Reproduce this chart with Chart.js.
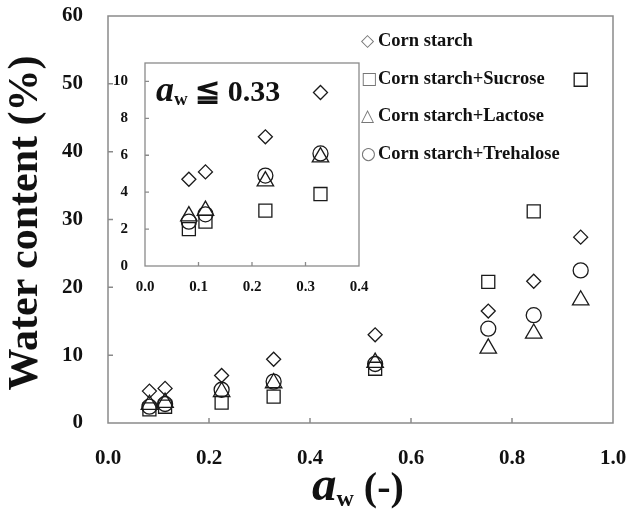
<!DOCTYPE html>
<html>
<head>
<meta charset="utf-8">
<script src="https://cdn.jsdelivr.net/npm/chart.js@4"></script>
<style>
  html, body { margin: 0; padding: 0; background: #ffffff; }
  #wrap { position: relative; width: 626px; height: 512px; overflow: hidden; background: #fff; }
  canvas { position: absolute; }
  .txt { position: absolute; font-family: 'Liberation Serif', 'Times New Roman', serif; font-weight: bold; color: #111; white-space: nowrap; pointer-events: none; }
  .leg { position: absolute; left: 361px; font-family: 'Liberation Serif', 'Times New Roman', serif; font-weight: bold; font-size: 18.5px; line-height: 18.5px; color: #111; white-space: nowrap; }
  .leg .g { font-family: 'DejaVu Sans', sans-serif; font-weight: normal; font-size: 17px; color: #777; display: inline-block; width: 17px; }
</style>
</head>
<body>
<div id="wrap">
  <canvas id="main" width="626" height="512" style="left:0;top:0"></canvas>
  <canvas id="inset" width="275" height="250" style="left:95px;top:50px"></canvas>

  <div class="txt" id="ytitle" style="left:-177px;top:200px;width:400px;height:46px;line-height:46px;font-size:42px;text-align:center;transform:rotate(-90deg);">Water content (%)</div>
  <div class="txt" style="left:312px;top:460px;line-height:48px;"><span style="font-size:49px;font-style:italic;">a</span><span style="font-size:24px;position:relative;top:6px;">w</span><span style="font-size:40px;"> (-)</span></div>
  <div class="txt" style="left:156px;top:73px;line-height:32px;"><span style="font-size:36px;font-style:italic;">a</span><span style="font-size:19px;position:relative;top:4px;">w</span><span style="font-size:30px;">&nbsp;≦&nbsp;0.33</span></div>

  <div class="leg" style="top:31px"><span class="g">◇</span>Corn starch</div>
  <div class="leg" style="top:68.5px"><span class="g">□</span>Corn starch+Sucrose</div>
  <div class="leg" style="top:106px"><span class="g">△</span>Corn starch+Lactose</div>
  <div class="leg" style="top:143.5px"><span class="g">○</span>Corn starch+Trehalose</div>
</div>
<script>
// ---- data ----
const awValues   = [0.082, 0.113, 0.225, 0.328, 0.529, 0.753, 0.843, 0.936];
const cornStarch = [4.7, 5.1, 7.0, 9.4, 13.0, 16.5, 20.9, 27.4];
const sucrose    = [2.0, 2.4, 3.0, 3.9, 8.0, 20.8, 31.2, 50.6];
const lactose    = [2.7, 3.0, 4.6, 5.9, 8.9, 11.0, 13.2, 18.1];
const trehalose  = [2.4, 2.8, 4.9, 6.1, 8.7, 13.9, 15.9, 22.5];
const seriesNames = ['Corn starch', 'Corn starch+Sucrose', 'Corn starch+Lactose', 'Corn starch+Trehalose'];
const insetLimit = 0.33;

const mainXTicks = [0, 0.2, 0.4, 0.6, 0.8, 1.0];
const mainYTicks = [0, 10, 20, 30, 40, 50, 60];
const insetXTicks = [0, 0.1, 0.2, 0.3, 0.4];
const insetYTicks = [0, 2, 4, 6, 8, 10];

const SERIF = "'Liberation Serif', 'Times New Roman', serif";
const styles = [
  { pointStyle: 'rectRot', r: 7 },
  { pointStyle: 'rect', r: 9.2 },
  { pointStyle: 'triangle', r: 9.5 },
  { pointStyle: 'circle', r: 7.5 }
];
const allSeries = [cornStarch, sucrose, lactose, trehalose];

function makeDatasets(limit) {
  return allSeries.map((vals, i) => ({
    label: seriesNames[i],
    data: awValues.map((x, j) => ({ x: x, y: vals[j] })).filter(p => p.x <= limit),
    pointStyle: styles[i].pointStyle,
    pointRadius: styles[i].r,
    pointHoverRadius: styles[i].r,
    borderColor: '#1a1a1a',
    backgroundColor: 'rgba(0,0,0,0)',
    pointBorderWidth: 1.3,
    showLine: false
  }));
}

const framePlugin = {
  id: 'frame',
  afterDraw(chart, args, opts) {
    const { ctx, chartArea: a, scales } = chart;
    ctx.save();
    ctx.strokeStyle = opts.color;
    ctx.lineWidth = opts.width;
    ctx.strokeRect(a.left, a.top, a.right - a.left, a.bottom - a.top);
    ctx.beginPath();
    scales.x.ticks.forEach((t, i) => {
      const px = scales.x.getPixelForTick(i);
      if (px <= a.left + 2 || px >= a.right - 2) return;
      ctx.moveTo(px, a.bottom); ctx.lineTo(px, a.bottom - opts.tick);
    });
    scales.y.ticks.forEach((t, i) => {
      const py = scales.y.getPixelForTick(i);
      if (py <= a.top + 2 || py >= a.bottom - 2) return;
      ctx.moveTo(a.left, py); ctx.lineTo(a.left + opts.tick, py);
    });
    ctx.stroke();
    ctx.restore();
  }
};

function setTicks(list) {
  return function (scale) { scale.ticks = list.map(v => ({ value: v })); };
}
function fitTo(prop, size) {
  return function (s) {
    s[prop] = size;
    s.paddingTop = 0; s.paddingBottom = 0; s.paddingLeft = 0; s.paddingRight = 0;
  };
}

new Chart(document.getElementById('main'), {
  type: 'scatter',
  data: { datasets: makeDatasets(Infinity) },
  plugins: [framePlugin],
  options: {
    responsive: false, animation: false, devicePixelRatio: 1,
    layout: { padding: { left: 0, right: 13, top: 16, bottom: 0 } },
    plugins: { legend: { display: false }, tooltip: { enabled: false },
      frame: { color: '#8a8a8a', width: 1.5, tick: 5 } },
    scales: {
      x: {
        type: 'linear', min: 0, max: 1,
        afterBuildTicks: setTicks(mainXTicks),
        afterFit: fitTo('height', 89),
        grid: { display: false, drawTicks: false }, border: { display: false },
        ticks: { padding: 23, color: '#111', font: { family: SERIF, size: 21, weight: 'bold' },
          callback: v => Number(v).toFixed(1), maxRotation: 0 }
      },
      y: {
        type: 'linear', min: 0, max: 60,
        afterBuildTicks: setTicks(mainYTicks),
        afterFit: fitTo('width', 108),
        grid: { display: false, drawTicks: false }, border: { display: false },
        ticks: { padding: 25, color: '#111', font: { family: SERIF, size: 21, weight: 'bold' } }
      }
    }
  }
});

new Chart(document.getElementById('inset'), {
  type: 'scatter',
  data: { datasets: makeDatasets(insetLimit) },
  plugins: [framePlugin],
  options: {
    responsive: false, animation: false, devicePixelRatio: 1,
    layout: { padding: { left: 0, right: 11, top: 13, bottom: 0 } },
    plugins: { legend: { display: false }, tooltip: { enabled: false },
      frame: { color: '#8a8a8a', width: 1.3, tick: 4 } },
    scales: {
      x: {
        type: 'linear', min: 0, max: 0.4,
        afterBuildTicks: setTicks(insetXTicks),
        afterFit: fitTo('height', 34),
        grid: { display: false, drawTicks: false }, border: { display: false },
        ticks: { padding: 12, color: '#111', font: { family: SERIF, size: 15, weight: 'bold' },
          callback: v => Number(v).toFixed(1), maxRotation: 0 }
      },
      y: {
        type: 'linear', min: 0, max: 11,
        afterBuildTicks: setTicks(insetYTicks),
        afterFit: fitTo('width', 50),
        grid: { display: false, drawTicks: false }, border: { display: false },
        ticks: { padding: 17, color: '#111', font: { family: SERIF, size: 15, weight: 'bold' } }
      }
    }
  }
});
</script>
</body>
</html>
